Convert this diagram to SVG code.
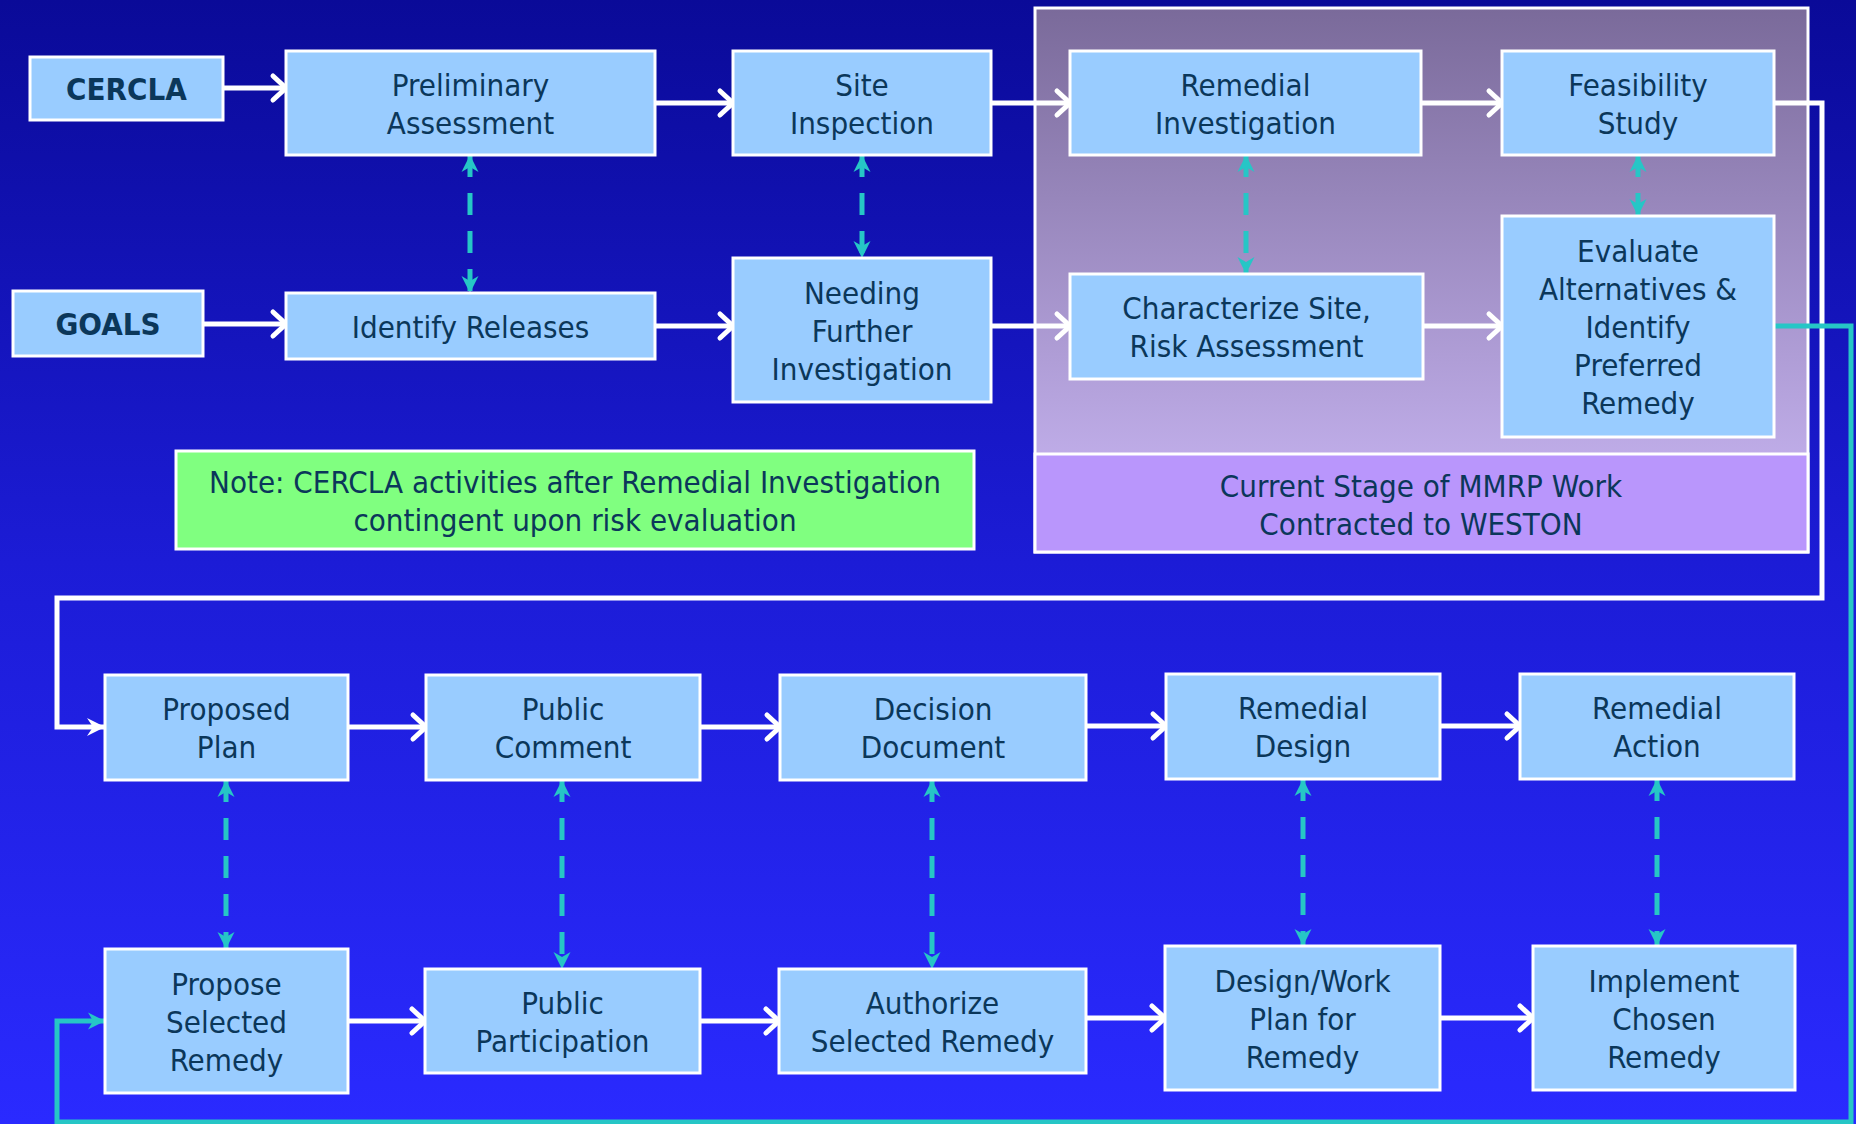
<svg xmlns="http://www.w3.org/2000/svg" width="1856" height="1124" viewBox="0 0 1856 1124">
<defs>
<linearGradient id="bg" x1="0" y1="0" x2="0" y2="1">
<stop offset="0" stop-color="#0a0a98"/>
<stop offset="0.5" stop-color="#1c1cd6"/>
<stop offset="1" stop-color="#2a2aff"/>
</linearGradient>
<linearGradient id="panel" x1="0" y1="0" x2="0" y2="1">
<stop offset="0" stop-color="#7a6a9a"/>
<stop offset="1" stop-color="#cdbaf8"/>
</linearGradient>
<marker id="chev" markerUnits="userSpaceOnUse" markerWidth="30" markerHeight="30" refX="24" refY="15" orient="auto" overflow="visible">
<path d="M11,3 L24,15 L11,27" fill="none" stroke="#ffffff" stroke-width="5" stroke-linecap="round" stroke-linejoin="miter"/>
</marker>
<marker id="whead" markerUnits="userSpaceOnUse" markerWidth="20" markerHeight="20" refX="18" refY="9" orient="auto" overflow="visible">
<path d="M0,0 L18,9 L0,18 L6,9 Z" fill="#ffffff"/>
</marker>
<marker id="thead" markerUnits="userSpaceOnUse" markerWidth="20" markerHeight="20" refX="17" refY="8.5" orient="auto-start-reverse" overflow="visible">
<path d="M0,0 L17,8.5 L0,17 L5,8.5 Z" fill="#26c6c6"/>
</marker>
</defs>
<style>
.box{fill:#99ccff;stroke:#ffffff;stroke-width:3}
.t{font-family:"DejaVu Sans Condensed","DejaVu Sans",sans-serif;font-stretch:condensed;font-size:31px;fill:#0b375a;text-anchor:middle}
.b{font-weight:bold}
.arr{fill:none;stroke:#ffffff;stroke-width:5;marker-end:url(#chev)}
.dash{fill:none;stroke:#26c6c6;stroke-width:5;stroke-dasharray:22 16;marker-start:url(#thead);marker-end:url(#thead)}
.teal{fill:none;stroke:#26c6c6;stroke-width:5;marker-end:url(#thead)}
.loop{fill:none;stroke:#ffffff;stroke-width:5;marker-end:url(#whead)}
</style>
<rect x="0" y="0" width="1856" height="1124" fill="url(#bg)"/>

<g id="stage-panel">
<rect x="1035" y="8" width="773" height="544" fill="url(#panel)" stroke="#ffffff" stroke-width="3"/>
<rect x="1035" y="454" width="773" height="98" fill="#b996fc" stroke="#ffffff" stroke-width="3"/>
<text class="t" x="1421" y="497">Current Stage of MMRP Work</text>
<text class="t" x="1421" y="535">Contracted to WESTON</text>
</g>

<g id="connectors">
<path class="arr" d="M224,88 H286"/>
<path class="arr" d="M655,103 H733"/>
<path class="arr" d="M991,103 H1070"/>
<path class="arr" d="M1421,103 H1502"/>
<path class="arr" d="M203,324 H286"/>
<path class="arr" d="M655,326 H733"/>
<path class="arr" d="M991,326 H1070"/>
<path class="arr" d="M1423,326 H1502"/>
<path class="loop" d="M1774,103 H1822 V598 H57 V727 H105"/>
<path class="arr" d="M348,727 H426"/>
<path class="arr" d="M700,727 H780"/>
<path class="arr" d="M1086,726 H1166"/>
<path class="arr" d="M1440,726 H1520"/>
<path class="arr" d="M348,1021 H425"/>
<path class="arr" d="M700,1021 H779"/>
<path class="arr" d="M1086,1018 H1165"/>
<path class="arr" d="M1440,1018 H1533"/>
<path class="teal" d="M1774,326 H1851 V1122 H57 V1021 H105"/>
<path class="dash" d="M470,155 V293"/>
<path class="dash" d="M862,155 V258"/>
<path class="dash" d="M1246,155 V274"/>
<path class="dash" d="M1638,155 V216"/>
<path class="dash" d="M226,780 V949"/>
<path class="dash" d="M562,780 V969"/>
<path class="dash" d="M932,780 V969"/>
<path class="dash" d="M1303,779 V946"/>
<path class="dash" d="M1657,779 V946"/>
</g>

<g id="cercla"><rect class="box" x="30" y="57" width="193" height="63"/><text class="t b" x="126.5" y="100">CERCLA</text></g>
<g id="preliminary-assessment"><rect class="box" x="286" y="51" width="369" height="104"/><text class="t" x="470.5" y="95.5">Preliminary</text><text class="t" x="470.5" y="133.5">Assessment</text></g>
<g id="site-inspection"><rect class="box" x="733" y="51" width="258" height="104"/><text class="t" x="862" y="95.5">Site</text><text class="t" x="862" y="133.5">Inspection</text></g>
<g id="remedial-investigation"><rect class="box" x="1070" y="51" width="351" height="104"/><text class="t" x="1245.5" y="95.5">Remedial</text><text class="t" x="1245.5" y="133.5">Investigation</text></g>
<g id="feasibility-study"><rect class="box" x="1502" y="51" width="272" height="104"/><text class="t" x="1638" y="95.5">Feasibility</text><text class="t" x="1638" y="133.5">Study</text></g>
<g id="goals"><rect class="box" x="13" y="291" width="190" height="65"/><text class="t b" x="108" y="335">GOALS</text></g>
<g id="identify-releases"><rect class="box" x="286" y="293" width="369" height="66"/><text class="t" x="470.5" y="337.5">Identify Releases</text></g>
<g id="needing-further-investigation"><rect class="box" x="733" y="258" width="258" height="144"/><text class="t" x="862" y="303.5">Needing</text><text class="t" x="862" y="341.5">Further</text><text class="t" x="862" y="379.5">Investigation</text></g>
<g id="characterize-site"><rect class="box" x="1070" y="274" width="353" height="105"/><text class="t" x="1246.5" y="319">Characterize Site,</text><text class="t" x="1246.5" y="357">Risk Assessment</text></g>
<g id="evaluate-alternatives"><rect class="box" x="1502" y="216" width="272" height="221"/><text class="t" x="1638" y="262">Evaluate</text><text class="t" x="1638" y="300">Alternatives &amp;</text><text class="t" x="1638" y="338">Identify</text><text class="t" x="1638" y="376">Preferred</text><text class="t" x="1638" y="414">Remedy</text></g>
<g id="note"><rect x="176" y="451" width="798" height="98" fill="#80ff80" stroke="#ffffff" stroke-width="3"/><text class="t" x="575" y="493">Note: CERCLA activities after Remedial Investigation</text><text class="t" x="575" y="531">contingent upon risk evaluation</text></g>

<g id="proposed-plan"><rect class="box" x="105" y="675" width="243" height="105"/><text class="t" x="226.5" y="720">Proposed</text><text class="t" x="226.5" y="758">Plan</text></g>
<g id="public-comment"><rect class="box" x="426" y="675" width="274" height="105"/><text class="t" x="563" y="720">Public</text><text class="t" x="563" y="758">Comment</text></g>
<g id="decision-document"><rect class="box" x="780" y="675" width="306" height="105"/><text class="t" x="933" y="720">Decision</text><text class="t" x="933" y="758">Document</text></g>
<g id="remedial-design"><rect class="box" x="1166" y="674" width="274" height="105"/><text class="t" x="1303" y="719">Remedial</text><text class="t" x="1303" y="757">Design</text></g>
<g id="remedial-action"><rect class="box" x="1520" y="674" width="274" height="105"/><text class="t" x="1657" y="719">Remedial</text><text class="t" x="1657" y="757">Action</text></g>
<g id="propose-selected-remedy"><rect class="box" x="105" y="949" width="243" height="144"/><text class="t" x="226.5" y="994.5">Propose</text><text class="t" x="226.5" y="1032.5">Selected</text><text class="t" x="226.5" y="1070.5">Remedy</text></g>
<g id="public-participation"><rect class="box" x="425" y="969" width="275" height="104"/><text class="t" x="562.5" y="1013.5">Public</text><text class="t" x="562.5" y="1051.5">Participation</text></g>
<g id="authorize-selected-remedy"><rect class="box" x="779" y="969" width="307" height="104"/><text class="t" x="932.5" y="1013.5">Authorize</text><text class="t" x="932.5" y="1051.5">Selected Remedy</text></g>
<g id="design-work-plan"><rect class="box" x="1165" y="946" width="275" height="144"/><text class="t" x="1302.5" y="991.5">Design/Work</text><text class="t" x="1302.5" y="1029.5">Plan for</text><text class="t" x="1302.5" y="1067.5">Remedy</text></g>
<g id="implement-chosen-remedy"><rect class="box" x="1533" y="946" width="262" height="144"/><text class="t" x="1664" y="991.5">Implement</text><text class="t" x="1664" y="1029.5">Chosen</text><text class="t" x="1664" y="1067.5">Remedy</text></g>
</svg>
